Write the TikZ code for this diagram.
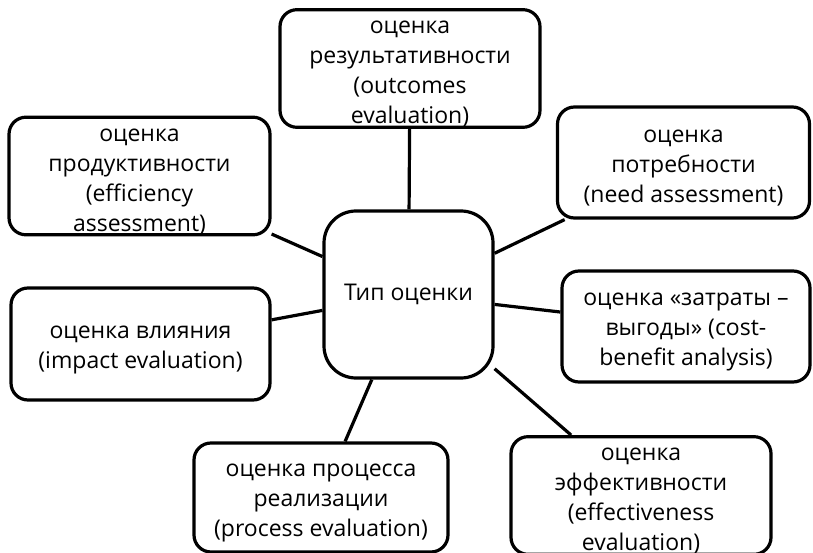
\documentclass[tikz,border=0pt]{standalone}
\usepackage{fontspec}
\setmainfont{Open Sans}
\newcommand\tpad{\rule{0pt}{24pt}}
\begin{document}
\begin{tikzpicture}[x=1pt,y=-1pt,
  box/.style={draw=black, line width=3.2pt, rounded corners=17pt, fill=white, align=center,
    inner sep=0pt, font=\fontsize{23}{30}\selectfont},
  link/.style={line width=3.2pt, draw=black}]
\useasboundingbox (0,0) rectangle (813,553);
\node[box, minimum width=169pt, minimum height=167pt, rounded corners=32pt] (c) at (408.5,294.5) {Тип оценки};
\node[box, minimum width=260pt, minimum height=113pt] (res) at (410,68.5) {\tpad оценка\\результативности\\(outcomes\\evaluation)};
\node[box, minimum width=261pt, minimum height=112pt] (prod) at (139.5,176) {\tpad оценка\\продуктивности\\(efficiency\\assessment)};
\node[box, minimum width=252pt, minimum height=111pt] (need) at (683.5,162.5) {\tpad оценка\\потребности\\(need assessment)};
\node[box, minimum width=248pt, minimum height=111pt] (cost) at (686,326.5) {\tpad оценка «затраты –\\выгоды» (cost-\\benefit analysis)};
\node[box, minimum width=259pt, minimum height=112pt] (imp) at (140.5,344) {\tpad оценка влияния\\(impact evaluation)};
\node[box, minimum width=254pt, minimum height=109pt] (proc) at (321,497.5) {\tpad оценка процесса\\реализации\\(process evaluation)};
\node[box, minimum width=260pt, minimum height=111pt] (effv) at (641,495.5) {\tpad оценка\\эффективности\\(effectiveness\\evaluation)};
\draw[link] (c) -- (res);
\draw[link] (c) -- (prod);
\draw[link] (c) -- (need);
\draw[link] (c) -- (cost);
\draw[link] (c) -- (imp);
\draw[link] (c) -- (proc);
\draw[link] (c) -- (effv);
\end{tikzpicture}
\end{document}
